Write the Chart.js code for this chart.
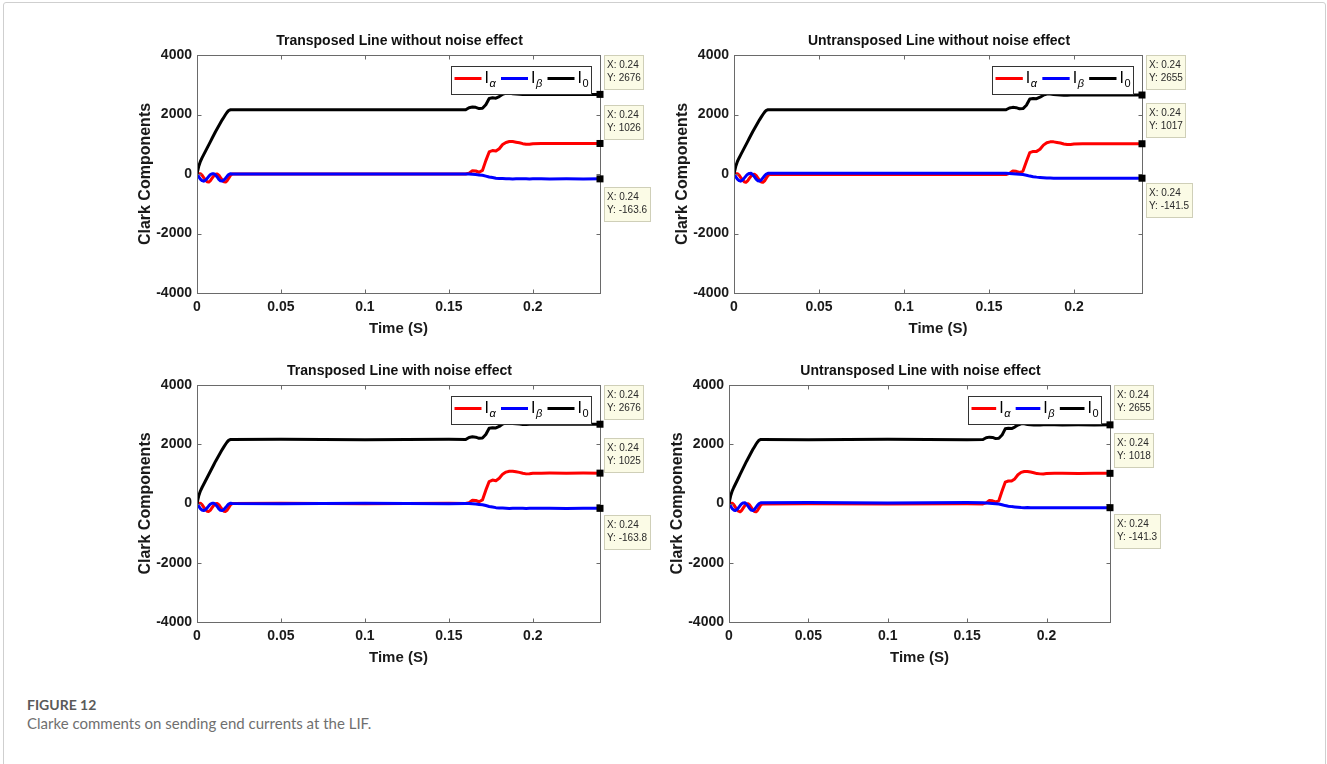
<!DOCTYPE html>
<html>
<head>
<meta charset="utf-8">
<title>Clarke components</title>
<script src="https://cdn.jsdelivr.net/npm/chart.js@4.4.0/dist/chart.umd.min.js"></script>
<style>
    body { margin: 0; background: #fff; }
    #fig { position: relative; width: 1327px; height: 764px; overflow: hidden; }
    .frame { position: absolute; left: 3px; top: 2px; width: 1321px; height: 820px; border: 1px solid #cfcfcf; border-radius: 3px; }
    canvas { position: absolute; }
    .fig-no { position: absolute; left: 27px; top: 698px; font: 700 14px/14px Lato, "Open Sans", sans-serif; color: #5a5a5a; }
    .fig-text { position: absolute; left: 27px; top: 716px; font: 400 15px/15px Lato, "Open Sans", sans-serif; color: #6f6f6f; }
</style>
</head>
<body>
<div id="fig">
    <div class="frame"></div>
    <canvas id="tl"></canvas>
    <canvas id="tr"></canvas>
    <canvas id="bl"></canvas>
    <canvas id="br"></canvas>
    <div class="fig-no">FIGURE 12</div>
    <div class="fig-text">Clarke comments on sending end currents at the LIF.</div>
</div>
<script>
// Time base (s) shared by every trace
const timeS = [0, 0.001, 0.002, 0.003, 0.004, 0.005, 0.006, 0.007, 0.008, 0.009, 0.010,
    0.011, 0.012, 0.013, 0.014, 0.015, 0.016, 0.017, 0.018, 0.019, 0.020,
    0.021, 0.05, 0.1, 0.15, 0.160,
    0.162, 0.164, 0.166, 0.168, 0.170, 0.172, 0.174, 0.176, 0.178, 0.180,
    0.182, 0.184, 0.186, 0.188, 0.190, 0.192, 0.194, 0.196, 0.198, 0.200,
    0.205, 0.21, 0.22, 0.23, 0.24];

const xTicks = [0, 0.05, 0.1, 0.15, 0.2];
const yTicks = [-4000, -2000, 0, 2000, 4000];

// Transposed line, no noise
const iaTransposed = [0, 10, 10, -40, -120, -200, -260, -270, -220, -140, -60,
    -10, 0, -40, -120, -200, -260, -270, -220, -130, -40,
    0, 0, 0, 0, 0,
    30, 110, 100, 60, 120, 450, 740, 790, 770, 850,
    990, 1060, 1090, 1090, 1070, 1050, 1020, 1000, 1000, 1020,
    1026, 1026, 1026, 1026, 1026];
const ibTransposed = [0, -90, -170, -220, -240, -210, -150, -80, -20, 10, 10,
    -30, -100, -180, -230, -240, -200, -140, -70, -10, 10,
    0, 0, 0, 0, 0,
    0, -10, -20, -30, -40, -70, -100, -120, -140, -150,
    -155, -160, -160, -165, -160, -162, -163, -160, -165, -163,
    -163, -164, -163, -164, -163.6];
const i0Transposed = [0, 250, 420, 540, 650, 760, 870, 980, 1090, 1200, 1310,
    1420, 1520, 1620, 1720, 1820, 1910, 2000, 2080, 2140, 2160,
    2160, 2160, 2160, 2160, 2160,
    2230, 2250, 2240, 2200, 2210, 2330, 2540, 2560, 2550, 2600,
    2680, 2720, 2720, 2700, 2690, 2680, 2670, 2670, 2675, 2675,
    2676, 2676, 2676, 2676, 2676];

// Untransposed line, no noise
const iaUntransposed = [0, 10, 10, -40, -120, -200, -260, -280, -230, -150, -70,
    -20, -10, -50, -130, -210, -270, -280, -230, -140, -50,
    -15, -15, -15, -15, -15,
    20, 100, 90, 50, 100, 420, 720, 760, 760, 830,
    970, 1050, 1080, 1080, 1060, 1040, 1010, 995, 995, 1010,
    1017, 1017, 1017, 1017, 1017];
const ibUntransposed = [0, -90, -170, -220, -240, -200, -140, -70, -10, 20, 25,
    -20, -90, -170, -225, -240, -200, -130, -60, 0, 25,
    25, 25, 25, 25, 25,
    20, 10, 0, -10, -20, -40, -70, -90, -105, -115,
    -125, -135, -138, -140, -140, -141, -142, -141, -141, -142,
    -141, -142, -141, -142, -141.5];
const i0Untransposed = [0, 250, 420, 540, 650, 760, 870, 980, 1090, 1200, 1310,
    1420, 1520, 1620, 1720, 1820, 1910, 2000, 2080, 2140, 2160,
    2160, 2160, 2160, 2160, 2160,
    2220, 2240, 2230, 2190, 2200, 2310, 2520, 2540, 2530, 2580,
    2650, 2690, 2690, 2670, 2660, 2655, 2650, 2650, 2655, 2655,
    2655, 2655, 2655, 2655, 2655];

// Transposed line with noise
const iaTransposedNoise = [0, 10, 10, -40, -120, -200, -260, -270, -220, -140, -60,
    -10, 0, -40, -120, -200, -260, -270, -220, -130, -40,
    0, 5, -5, 5, 0,
    30, 110, 100, 60, 120, 450, 740, 790, 770, 850,
    990, 1060, 1090, 1090, 1070, 1050, 1020, 1000, 1005, 1020,
    1025, 1028, 1024, 1026, 1025];
const ibTransposedNoise = [0, -90, -170, -220, -240, -210, -150, -80, -20, 10, 10,
    -30, -100, -180, -230, -240, -200, -140, -70, -10, 10,
    0, -5, 5, -5, 0,
    0, -10, -20, -30, -40, -70, -100, -120, -140, -150,
    -155, -160, -165, -160, -162, -163, -160, -165, -163, -162,
    -164, -163, -165, -163, -163.8];
const i0TransposedNoise = [0, 250, 420, 540, 650, 760, 870, 980, 1090, 1200, 1310,
    1420, 1520, 1620, 1720, 1820, 1910, 2000, 2080, 2140, 2160,
    2160, 2170, 2150, 2165, 2160,
    2230, 2250, 2240, 2200, 2210, 2330, 2540, 2560, 2550, 2600,
    2680, 2720, 2720, 2700, 2690, 2680, 2670, 2665, 2675, 2678,
    2676, 2674, 2677, 2675, 2676];

// Untransposed line with noise
const iaUntransposedNoise = [0, 10, 10, -40, -120, -200, -260, -280, -230, -150, -70,
    -20, -10, -50, -130, -210, -270, -280, -230, -140, -50,
    -15, -10, -20, -10, -15,
    20, 100, 90, 50, 100, 420, 720, 760, 760, 830,
    970, 1050, 1080, 1080, 1060, 1040, 1010, 1000, 995, 1010,
    1018, 1022, 1015, 1019, 1018];
const ibUntransposedNoise = [0, -90, -170, -220, -240, -200, -140, -70, -10, 20, 25,
    -20, -90, -170, -225, -240, -200, -130, -60, 0, 25,
    25, 30, 20, 30, 25,
    20, 10, 0, -10, -20, -40, -70, -90, -105, -115,
    -125, -135, -140, -138, -141, -140, -142, -141, -143, -141,
    -142, -141, -140, -142, -141.3];
const i0UntransposedNoise = [0, 250, 420, 540, 650, 760, 870, 980, 1090, 1200, 1310,
    1420, 1520, 1620, 1720, 1820, 1910, 2000, 2080, 2140, 2160,
    2160, 2150, 2170, 2155, 2160,
    2220, 2240, 2230, 2190, 2200, 2310, 2520, 2540, 2530, 2580,
    2650, 2690, 2690, 2670, 2660, 2650, 2655, 2650, 2658, 2655,
    2655, 2652, 2657, 2654, 2655];

const FONT = '"Liberation Sans", Arial, sans-serif';

// area = plot box in page pixels [left, top, right, bottom]
const panels = [
    { id: 'tl', title: 'Transposed Line without noise effect', area: [197, 55, 600, 293],
      ia: iaTransposed, ib: ibTransposed, i0: i0Transposed, legendWidth: 140, tipTops: [0, 50, 132] },
    { id: 'tr', title: 'Untransposed Line without noise effect', area: [734, 55, 1142, 293],
      ia: iaUntransposed, ib: ibUntransposed, i0: i0Untransposed, legendWidth: 141, tipTops: [0, 48, 128] },
    { id: 'bl', title: 'Transposed Line with noise effect', area: [197, 385, 600, 622],
      ia: iaTransposedNoise, ib: ibTransposedNoise, i0: i0TransposedNoise, legendWidth: 140, tipTops: [0, 53, 130] },
    { id: 'br', title: 'Untransposed Line with noise effect', area: [729, 385, 1110, 622],
      ia: iaUntransposedNoise, ib: ibUntransposedNoise, i0: i0UntransposedNoise, legendWidth: 133, tipTops: [0, 48, 129] }
];

const PAD_LEFT = 67, PAD_TOP = 30, PAD_RIGHT = 70, PAD_BOTTOM = 52;

function toPoints(values) {
    return values.map((v, i) => ({ x: timeS[i], y: v }));
}

// Legend box with subscripted labels (I_alpha, I_beta, I_0)
function drawLegend(chart, a, w) {
    const ctx = chart.ctx;
    const h = 28;
    const left = Math.round(a.right - 9.5 - w);
    const top = Math.round(a.top + 11);
    ctx.fillStyle = '#fff';
    ctx.fillRect(left, top, w, h);
    ctx.strokeStyle = '#333';
    ctx.lineWidth = 1;
    ctx.strokeRect(left + 0.5, top + 0.5, w, h);

    const lineLen = (w - 6 - 11 - 42) / 3;
    let xx = left + 3.5;
    chart.data.datasets.forEach(ds => {
        ctx.strokeStyle = ds.borderColor;
        ctx.lineWidth = 3;
        ctx.beginPath();
        ctx.moveTo(xx, top + 12.5);
        ctx.lineTo(xx + lineLen, top + 12.5);
        ctx.stroke();

        ctx.fillStyle = '#000';
        ctx.textAlign = 'left';
        ctx.textBaseline = 'alphabetic';
        ctx.font = '16px ' + FONT;
        ctx.fillText(ds.label[0], xx + lineLen + 3, top + 17);
        const sub = ds.label.slice(1);
        ctx.font = (sub === '0' ? '' : 'italic ') + '11px ' + FONT;
        ctx.fillText(sub, xx + lineLen + 8, top + 21);
        xx += lineLen + 14 + 5.5;
    });
}

// Data cursors at the last sample of each trace
function drawTips(chart, a, tipTops) {
    const ctx = chart.ctx;
    const { x, y } = chart.scales;
    const ds = chart.data.datasets;
    const order = [2, 0, 1]; // I0, I_alpha, I_beta from top to bottom
    ctx.font = '10px ' + FONT;
    order.forEach((di, k) => {
        const pts = ds[di].data;
        const last = pts[pts.length - 1];
        const lines = ['X: ' + last.x, 'Y: ' + last.y];
        const w = Math.ceil(Math.max(...lines.map(s => ctx.measureText(s).width))) + 5;
        const bx = Math.round(a.right) + 4;
        const by = Math.round(a.top) + tipTops[k];
        ctx.fillStyle = '#fbfbe6';
        ctx.fillRect(bx, by, w, 34);
        ctx.strokeStyle = '#cfcfb8';
        ctx.lineWidth = 1;
        ctx.strokeRect(bx + 0.5, by + 0.5, w, 34);
        ctx.fillStyle = '#2a2a2a';
        ctx.textAlign = 'left';
        ctx.textBaseline = 'middle';
        ctx.fillText(lines[0], bx + 3, by + 10);
        ctx.fillText(lines[1], bx + 3, by + 23);

        const px = x.getPixelForValue(last.x);
        const py = y.getPixelForValue(last.y);
        ctx.fillStyle = '#000';
        ctx.fillRect(px - 3.5, py - 3.5, 7, 7);
    });
}

// Box axes with inward ticks, panel title, legend and data cursors
const matlabPlot = {
    id: 'matlabPlot',
    afterDraw(chart, args, opts) {
        const { ctx, chartArea: a, scales: { x, y } } = chart;
        ctx.save();
        ctx.strokeStyle = '#6a6a6a';
        ctx.lineWidth = 1;
        const l = Math.round(a.left) + 0.5, t = Math.round(a.top) + 0.5;
        const r = Math.round(a.right) + 0.5, b = Math.round(a.bottom) + 0.5;
        ctx.strokeRect(l, t, r - l, b - t);
        ctx.beginPath();
        xTicks.forEach(v => {
            const px = Math.round(x.getPixelForValue(v)) + 0.5;
            ctx.moveTo(px, b); ctx.lineTo(px, b - 4);
            ctx.moveTo(px, t); ctx.lineTo(px, t + 4);
        });
        yTicks.forEach(v => {
            const py = Math.round(y.getPixelForValue(v)) + 0.5;
            ctx.moveTo(l, py); ctx.lineTo(l + 4, py);
            ctx.moveTo(r, py); ctx.lineTo(r - 4, py);
        });
        ctx.stroke();

        ctx.fillStyle = '#111';
        ctx.font = 'bold 14px ' + FONT;
        ctx.textAlign = 'center';
        ctx.textBaseline = 'middle';
        ctx.fillText(opts.title, (a.left + a.right) / 2 + 1, a.top - 14);

        drawLegend(chart, a, opts.legendWidth);
        drawTips(chart, a, opts.tipTops);
        ctx.restore();
    }
};

const tickFont = { family: FONT, size: 14, weight: 'bold' };

panels.forEach(p => {
    const canvas = document.getElementById(p.id);
    const [al, at, ar, ab] = p.area;
    canvas.width = ar - al + PAD_LEFT + PAD_RIGHT;
    canvas.height = ab - at + PAD_TOP + PAD_BOTTOM;
    canvas.style.left = (al - PAD_LEFT) + 'px';
    canvas.style.top = (at - PAD_TOP) + 'px';

    new Chart(canvas, {
        type: 'line',
        data: {
            datasets: [
                { label: 'I\u03B1', data: toPoints(p.ia), borderColor: '#ff0000', order: 2 },
                { label: 'I\u03B2', data: toPoints(p.ib), borderColor: '#0000ff', order: 1 },
                { label: 'I0', data: toPoints(p.i0), borderColor: '#000000', order: 0 }
            ]
        },
        options: {
            responsive: false,
            animation: false,
            layout: { padding: { left: 0, right: PAD_RIGHT, top: PAD_TOP, bottom: 0 } },
            elements: {
                point: { radius: 0 },
                line: { borderWidth: 3, tension: 0, borderJoinStyle: 'round', borderCapStyle: 'round' }
            },
            plugins: {
                legend: { display: false },
                tooltip: { enabled: false },
                title: { display: false },
                matlabPlot: { title: p.title, legendWidth: p.legendWidth, tipTops: p.tipTops }
            },
            scales: {
                x: {
                    type: 'linear',
                    min: 0,
                    max: 0.24,
                    afterBuildTicks: s => { s.ticks = xTicks.map(v => ({ value: v })); },
                    afterFit: s => { s.height = PAD_BOTTOM; },
                    grid: { display: false, drawTicks: false },
                    border: { display: false },
                    ticks: { color: '#1a1a1a', font: tickFont, padding: 6, maxRotation: 0, callback: v => String(v) },
                    title: {
                        display: true,
                        text: 'Time (S)',
                        color: '#1a1a1a',
                        font: { family: FONT, size: 15, weight: 'bold' },
                        padding: { top: 0, bottom: 7 }
                    }
                },
                y: {
                    min: -4000,
                    max: 4000,
                    afterBuildTicks: s => { s.ticks = yTicks.map(v => ({ value: v })); },
                    afterFit: s => { s.width = PAD_LEFT; },
                    grid: { display: false, drawTicks: false },
                    border: { display: false },
                    ticks: { color: '#1a1a1a', font: tickFont, padding: 5, callback: v => String(v) },
                    title: {
                        display: true,
                        text: 'Clark Components',
                        color: '#1a1a1a',
                        font: { family: FONT, size: 16, weight: 'bold' },
                        padding: { top: 6, bottom: 0 }
                    }
                }
            }
        },
        plugins: [matlabPlot]
    });
});
</script>
</body>
</html>
